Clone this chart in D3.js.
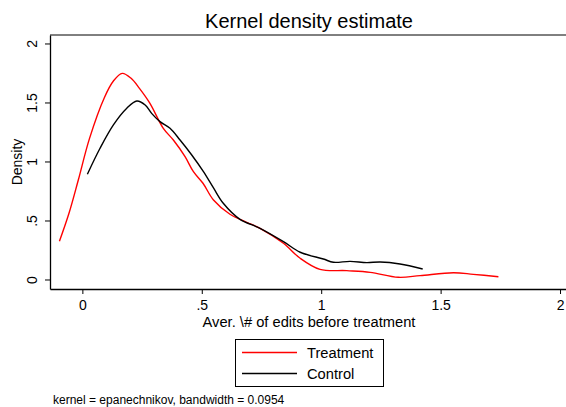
<!DOCTYPE html>
<html><head><meta charset="utf-8">
<script src="https://cdn.jsdelivr.net/npm/d3@7"></script>
<style>body{margin:0;background:#fff}svg{display:block}text{font-family:"Liberation Sans",Arial,sans-serif}</style>
</head><body><svg id="c" width="566" height="407"></svg>
<script>
const xTicks = [0, 0.5, 1, 1.5, 2];
const xTickLabels = ["0", ".5", "1", "1.5", "2"];
const yTicks = [0, 0.5, 1, 1.5, 2];
const yTickLabels = ["0", ".5", "1", "1.5", "2"];
const treatmentX = [-0.096,-0.056,-0.017,0.03,0.092,0.13,0.167,0.204,0.239,0.283,0.339,0.381,0.43,0.465,0.505,0.549,0.618,0.688,0.744,0.842,0.912,0.995,1.107,1.205,1.323,1.414,1.554,1.637,1.742];
const treatmentY = [0.328,0.565,0.847,1.2,1.545,1.686,1.751,1.709,1.624,1.497,1.285,1.186,1.045,0.918,0.82,0.678,0.557,0.489,0.438,0.311,0.184,0.09,0.079,0.065,0.023,0.037,0.062,0.048,0.028];
const controlX = [0.021,0.074,0.13,0.186,0.228,0.263,0.29,0.325,0.367,0.409,0.458,0.507,0.549,0.59,0.66,0.744,0.842,0.912,1.009,1.051,1.121,1.191,1.247,1.33,1.425];
const controlY = [0.896,1.116,1.314,1.455,1.517,1.483,1.412,1.342,1.285,1.186,1.059,0.918,0.78,0.65,0.514,0.438,0.325,0.235,0.178,0.15,0.158,0.147,0.153,0.136,0.093];
const seriesNames = ["Treatment", "Control"];
const seriesColors = ["#ff0000", "#000000"];

const svg = d3.select("#c");
const L = 50, R = 566, T = 35, B = 289;
const x = d3.scaleLinear().domain([-0.1355, 2.025]).range([L, R]);
const y = d3.scaleLinear().domain([-0.0763, 2.076]).range([B, T]);

svg.append("text").attr("x", 309).attr("y", 28).attr("text-anchor", "middle")
  .attr("font-size", 20).text("Kernel density estimate");

svg.append("line").attr("x1", L).attr("x2", R).attr("y1", T).attr("y2", T).attr("stroke", "#000").attr("stroke-width", 1);

const xa = svg.append("g").attr("transform", `translate(0,${B})`)
  .call(d3.axisBottom(x).tickValues(xTicks).tickFormat((d,i)=>xTickLabels[i]).tickSize(5).tickSizeOuter(0).tickPadding(6));
xa.select(".domain").attr("stroke-width", 1.3);
xa.selectAll("text").attr("font-size", 14).attr("font-family", "Liberation Sans, Arial, sans-serif");

const ya = svg.append("g").attr("transform", `translate(${L},0)`)
  .call(d3.axisLeft(y).tickValues(yTicks).tickFormat((d,i)=>yTickLabels[i]).tickSize(5).tickSizeOuter(0).tickPadding(4));
ya.select(".domain").attr("stroke-width", 1.3);
ya.selectAll(".tick").attr("transform", null);
ya.selectAll(".tick line").attr("y1", d=>y(d)).attr("y2", d=>y(d));
ya.selectAll("text").attr("font-size", 14).attr("font-family", "Liberation Sans, Arial, sans-serif")
  .attr("text-anchor", "middle").attr("transform", d => `translate(-18,${y(d)}) rotate(-90)`)
  .attr("x", 0).attr("y", 0).attr("dy", "0.35em");

svg.append("text").attr("transform", "translate(22,162) rotate(-90)").attr("text-anchor", "middle")
  .attr("font-size", 14).text("Density");
svg.append("text").attr("x", 309).attr("y", 327).attr("text-anchor", "middle")
  .attr("font-size", 14.7).text("Aver. \\# of edits before treatment");

const line = d3.line().x(d=>x(d[0])).y(d=>y(d[1])).curve(d3.curveCatmullRom);
const tData = treatmentX.map((v,i)=>[v, treatmentY[i]]);
const cData = controlX.map((v,i)=>[v, controlY[i]]);
svg.append("path").datum(tData).attr("d", line).attr("fill", "none").attr("stroke", seriesColors[0]).attr("stroke-width", 1.4);
svg.append("path").datum(cData).attr("d", line).attr("fill", "none").attr("stroke", seriesColors[1]).attr("stroke-width", 1.4);

const lg = svg.append("g");
lg.append("rect").attr("x", 235.5).attr("y", 339.5).attr("width", 148).attr("height", 47).attr("fill", "#fff").attr("stroke", "#000").attr("stroke-width", 1);
seriesNames.forEach((n,i)=>{
  const yy = 352.5 + i*21;
  lg.append("line").attr("x1", 242).attr("x2", 297).attr("y1", yy).attr("y2", yy).attr("stroke", seriesColors[i]).attr("stroke-width", 1.4);
  lg.append("text").attr("x", 307).attr("y", yy + 5.5).attr("font-size", 14.7).text(n);
});

svg.append("text").attr("x", 53).attr("y", 404).attr("font-size", 12).text("kernel = epanechnikov, bandwidth = 0.0954");
</script></body></html>
